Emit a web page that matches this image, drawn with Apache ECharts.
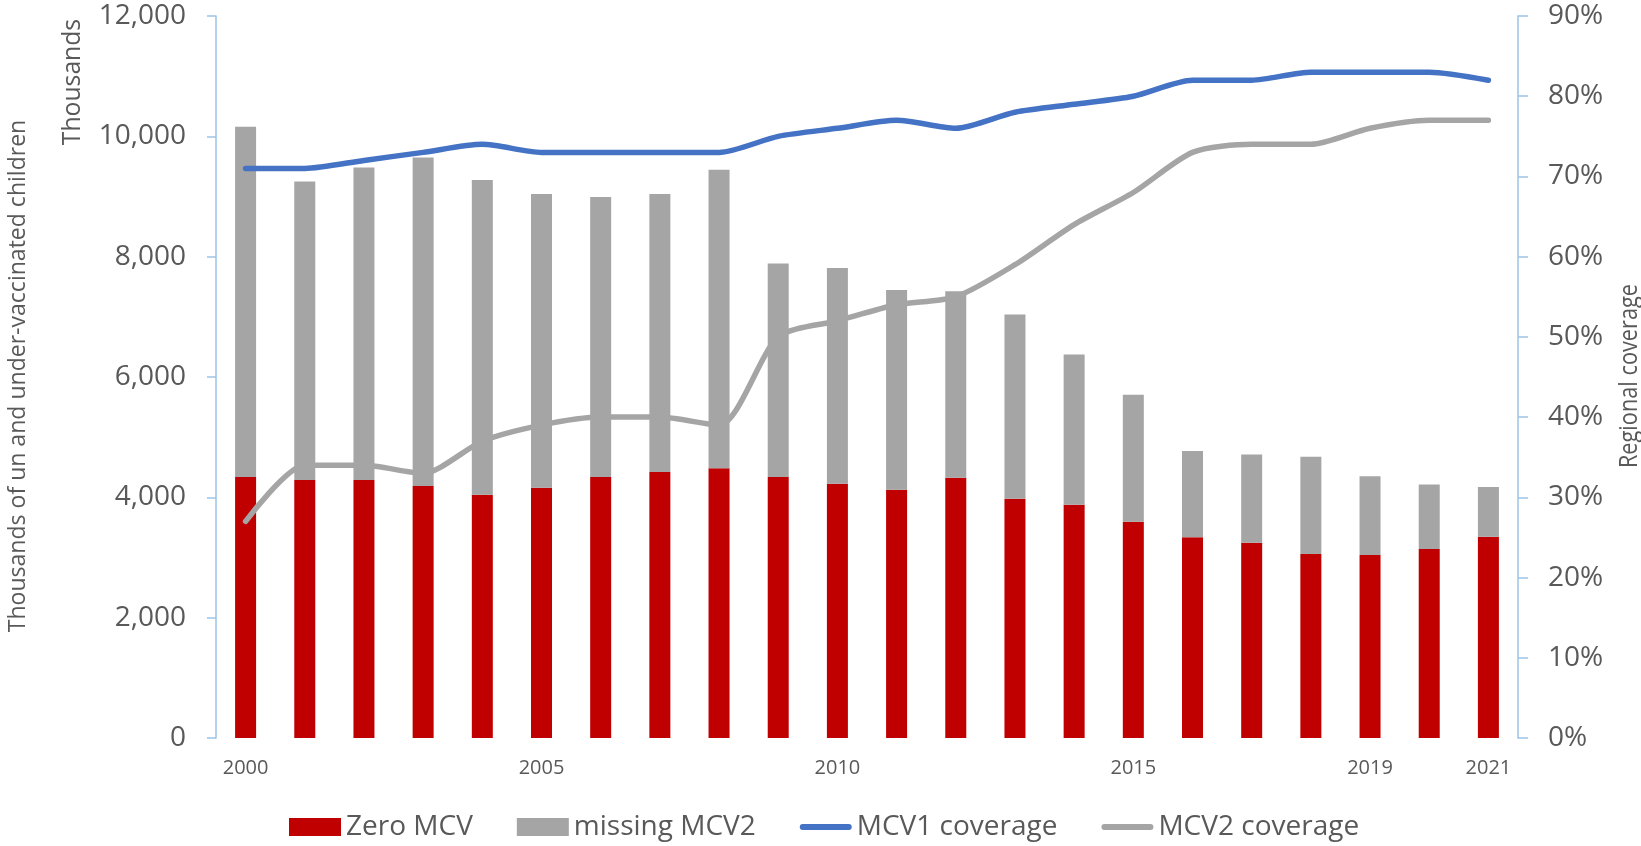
<!DOCTYPE html>
<html>
<head>
<meta charset="utf-8">
<title>Measles vaccination</title>
<script src="https://cdn.jsdelivr.net/npm/echarts@6/dist/echarts.min.js"></script>
<style>
  html, body { margin: 0; padding: 0; background: #fff; }
  #chart { width: 1641px; height: 846px; }
</style>
</head>
<body>
<div id="chart"></div>
<script>
// data
const years = ['2000', '2001', '2002', '2003', '2004', '2005', '2006', '2007', '2008', '2009', '2010',
  '2011', '2012', '2013', '2014', '2015', '2016', '2017', '2018', '2019', '2020', '2021']
const shownYears = ['2000', '2005', '2010', '2015', '2019', '2021']
const zeroMCV = [4340, 4290, 4290, 4190, 4045, 4160, 4340, 4420, 4485, 4340, 4225,
  4125, 4325, 3975, 3875, 3595, 3335, 3245, 3060, 3040, 3140, 3345]
const missingMCV2 = [5820, 4960, 5190, 5460, 5230, 4880, 4650, 4620, 4960, 3545, 3585,
  3320, 3100, 3065, 2500, 2110, 1435, 1465, 1615, 1310, 1075, 825]
const mcv1Coverage = [71, 71, 72, 73, 74, 73, 73, 73, 73, 75, 76, 77, 76, 78, 79, 80, 82, 82, 83, 83, 83, 82]
const mcv2Coverage = [27, 34, 34, 33, 37, 39, 40, 40, 39, 50, 52, 54, 55, 59, 64, 68, 73, 74, 74, 76, 77, 77]

const textColor = '#595959'
const axisColor = '#9DC3E6'
const tickFont = "'Open Sans', sans-serif"

// thick round-capped line for the legend (tiny corner dots keep the 52x18 box)
const lineIcon = 'path://M0,0 L0.01,0 L0,0.01 Z M3,6 L49,6 A3,3 0 0 1 49,12 L3,12 A3,3 0 0 1 3,6 Z M52,18 L51.99,18 L52,17.99 Z'

let myChart = echarts.init(document.getElementById('chart'))
myChart.setOption({
  animation: false,
  backgroundColor: '#fff',
  grid: {
    left: 216,
    right: 123,
    top: 16,
    bottom: 108
  },
  legend: {
    left: 284,
    top: 808,
    itemWidth: 52,
    itemHeight: 18,
    itemGap: 44,
    textStyle: {
      color: textColor,
      fontSize: 28,
      fontFamily: tickFont
    },
    data: [
      { name: 'Zero MCV', icon: 'rect' },
      { name: 'missing MCV2', icon: 'rect' },
      { name: 'MCV1 coverage', icon: lineIcon, itemStyle: { borderWidth: 0 } },
      { name: 'MCV2 coverage', icon: lineIcon, itemStyle: { borderWidth: 0 } }
    ]
  },
  xAxis: {
    type: 'category',
    data: years,
    boundaryGap: true,
    axisLine: { show: false },
    axisTick: { show: false },
    axisLabel: {
      color: textColor,
      fontSize: 20,
      fontFamily: tickFont,
      margin: 20,
      interval: (i, v) => shownYears.includes(v)
    }
  },
  yAxis: [
    {
      type: 'value',
      min: 0,
      max: 12000,
      interval: 2000,
      splitLine: { show: false },
      axisLine: { show: true, lineStyle: { color: axisColor, width: 1.5 } },
      axisTick: { show: true, length: 9, lineStyle: { color: axisColor, width: 1.5 } },
      axisLabel: {
        color: textColor,
        fontSize: 28,
        fontFamily: tickFont,
        margin: 30,
        formatter: v => v.toLocaleString('en-US')
      }
    },
    {
      type: 'value',
      min: 0,
      max: 90,
      interval: 10,
      splitLine: { show: false },
      axisLine: { show: true, lineStyle: { color: axisColor, width: 1.5 } },
      axisTick: { show: true, length: 10, lineStyle: { color: axisColor, width: 1.5 } },
      axisLabel: {
        color: textColor,
        fontSize: 28,
        fontFamily: tickFont,
        margin: 30,
        formatter: '{value}%'
      }
    }
  ],
  graphic: [
    {
      type: 'text',
      x: 18, y: 376,
      rotation: Math.PI / 2,
      scaleX: 0.96,
      style: {
        text: 'Thousands of un and under-vaccinated children',
        fill: textColor,
        font: '24px ' + tickFont,
        align: 'center',
        verticalAlign: 'middle'
      }
    },
    {
      type: 'text',
      x: 73, y: 82,
      rotation: Math.PI / 2,
      scaleX: 0.95,
      style: {
        text: 'Thousands',
        fill: textColor,
        font: '26px ' + tickFont,
        align: 'center',
        verticalAlign: 'middle'
      }
    },
    {
      type: 'text',
      x: 1630, y: 376,
      rotation: Math.PI / 2,
      scaleX: 0.87,
      style: {
        text: 'Regional coverage',
        fill: textColor,
        font: '25px ' + tickFont,
        align: 'center',
        verticalAlign: 'middle'
      }
    }
  ],
  series: [
    {
      name: 'Zero MCV',
      type: 'bar',
      stack: 'children',
      barWidth: 21,
      itemStyle: { color: '#C00000' },
      data: zeroMCV
    },
    {
      name: 'missing MCV2',
      type: 'bar',
      stack: 'children',
      barWidth: 21,
      itemStyle: { color: '#A5A5A5' },
      data: missingMCV2
    },
    {
      name: 'MCV1 coverage',
      type: 'line',
      yAxisIndex: 1,
      smooth: 0.25,
      symbol: 'none',
      lineStyle: { color: '#4472C4', width: 5.5, cap: 'round', join: 'round' },
      itemStyle: { color: '#4472C4', borderWidth: 0 },
      z: 3,
      data: mcv1Coverage
    },
    {
      name: 'MCV2 coverage',
      type: 'line',
      yAxisIndex: 1,
      smooth: 0.25,
      symbol: 'none',
      lineStyle: { color: '#A5A5A5', width: 5.5, cap: 'round', join: 'round' },
      itemStyle: { color: '#A5A5A5', borderWidth: 0 },
      z: 3,
      data: mcv2Coverage
    }
  ]
})
window.addEventListener('resize', () => {
  if (myChart) {
    myChart.resize()
  }
})
</script>
</body>
</html>
